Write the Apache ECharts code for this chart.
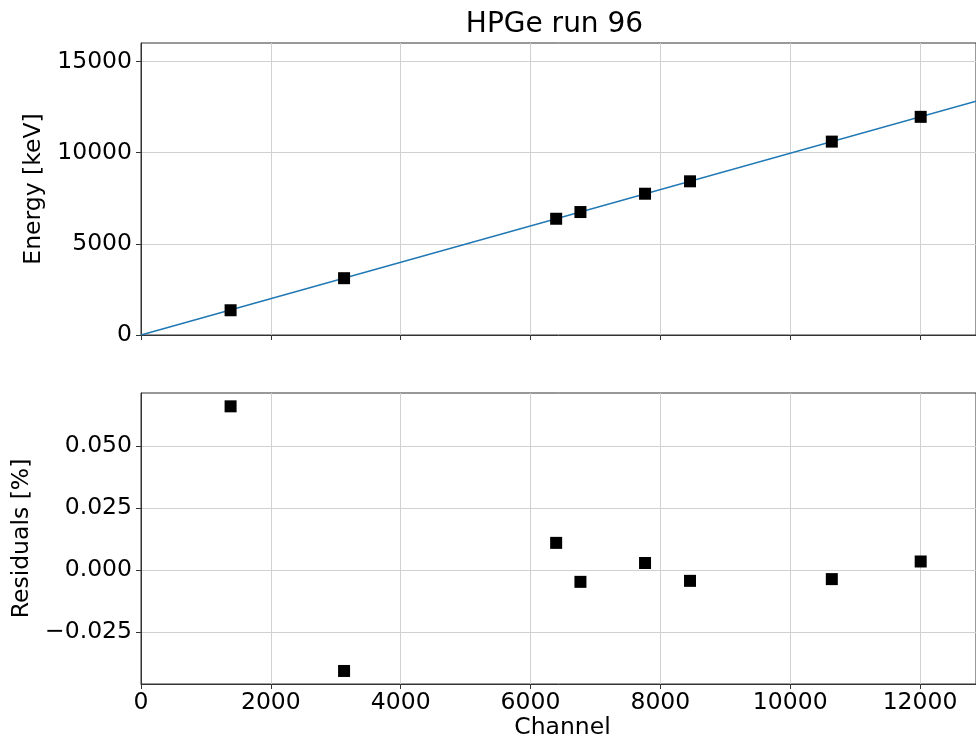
<!DOCTYPE html>
<html>
<head>
<meta charset="utf-8">
<script src="https://cdn.jsdelivr.net/npm/echarts@6/dist/echarts.min.js"></script>
<style>
html,body{margin:0;padding:0;background:#fff;}
#chart{width:976px;height:742px;}
</style>
</head>
<body>
<div id="chart"></div>
<script>
// ---- data ----
const channels  = [1380, 3128, 6395, 6769, 7764, 8457, 10641, 12010];
const energies  = [1357, 3115, 6374, 6742, 7747, 8427, 10604, 11962];
const residuals = [0.0660, -0.0406, 0.0110, -0.0047, 0.0029, -0.0043, -0.0036, 0.0035];
const fitX = [0, 12862];
const fitE = [0, 12818];
const xTicks = [0, 2000, 4000, 6000, 8000, 10000, 12000];
const energyTicks = [0, 5000, 10000, 15000];
const residualTicks = [-0.025, 0, 0.025, 0.05];
const titleText = 'HPGe run 96';

const FONT = 'DejaVu Sans';
const AXIS_COLOR = '#333';
const GRID_COLOR = '#d0d0d0';
const FS = 23.5;

const chart = echarts.init(document.getElementById('chart'), null, {renderer: 'canvas'});

function xAxisCfg(gridIndex, showLabels) {
  return {
    type: 'value', gridIndex, min: 0, max: 12862,
    axisLine: {show: true, onZero: false, lineStyle: {color: AXIS_COLOR, width: 1}},
    axisTick: {show: true, inside: false, length: 5, customValues: xTicks, lineStyle: {color: AXIS_COLOR}},
    axisLabel: {show: showLabels, customValues: xTicks, color: '#000', fontFamily: FONT, fontSize: FS, margin: 7,
      formatter: v => String(Math.round(v))},
    splitLine: {show: true, lineStyle: {color: GRID_COLOR, width: 1}},
    name: showLabels ? 'Channel' : '',
    nameLocation: 'middle', nameGap: 32,
    nameTextStyle: {color: '#000', fontFamily: FONT, fontSize: FS, padding: [0, 0, 0, 8]}
  };
}

const option = {
  backgroundColor: '#fff',
  animation: false,
  title: {
    text: titleText, left: 549.5, top: 6, textAlign: 'center',
    textStyle: {fontFamily: FONT, fontSize: 28, fontWeight: 'normal', color: '#000'}
  },
  grid: [
    {left: 141, right: -1, top: 43, height: 292, show: true, borderColor: AXIS_COLOR, borderWidth: 1, containLabel: false},
    {left: 141, right: -1, top: 393, height: 291, show: true, borderColor: AXIS_COLOR, borderWidth: 1, containLabel: false}
  ],
  xAxis: [xAxisCfg(0, false), xAxisCfg(1, true)],
  yAxis: [
    {
      type: 'value', gridIndex: 0, min: 0, max: 16011,
      axisLine: {show: true, lineStyle: {color: AXIS_COLOR}},
      axisTick: {show: true, length: 5, customValues: energyTicks, lineStyle: {color: AXIS_COLOR}},
      axisLabel: {customValues: energyTicks, color: '#000', fontFamily: FONT, fontSize: FS, margin: 9,
        formatter: v => String(Math.round(v))},
      splitLine: {show: true, lineStyle: {color: GRID_COLOR, width: 1}},
      name: 'Energy [keV]', nameLocation: 'middle', nameGap: 86,
      nameTextStyle: {color: '#000', fontFamily: FONT, fontSize: FS}
    },
    {
      type: 'value', gridIndex: 1, min: -0.04585, max: 0.07137,
      axisLine: {show: true, onZero: false, lineStyle: {color: AXIS_COLOR}},
      axisTick: {show: true, length: 5, customValues: residualTicks, lineStyle: {color: AXIS_COLOR}},
      axisLabel: {
        customValues: residualTicks, color: '#000', fontFamily: FONT, fontSize: FS, margin: 9,
        formatter: v => (v < -1e-9 ? '\u2212' : '') + Math.abs(v).toFixed(3)
      },
      splitLine: {show: true, lineStyle: {color: GRID_COLOR, width: 1}},
      name: 'Residuals [%]', nameLocation: 'middle', nameGap: 104,
      nameTextStyle: {color: '#000', fontFamily: FONT, fontSize: FS}
    }
  ],
  series: [
    {
      type: 'line', xAxisIndex: 0, yAxisIndex: 0,
      data: fitX.map((x, i) => [x, fitE[i]]),
      symbol: 'none', lineStyle: {color: '#1f77b4', width: 1.5}, z: 2, silent: true
    },
    {
      type: 'scatter', xAxisIndex: 0, yAxisIndex: 0,
      data: channels.map((x, i) => [x, energies[i]]),
      symbol: 'rect', symbolSize: 12, itemStyle: {color: '#000', opacity: 1}, z: 3
    },
    {
      type: 'scatter', xAxisIndex: 1, yAxisIndex: 1,
      data: channels.map((x, i) => [x, residuals[i]]),
      symbol: 'rect', symbolSize: 12, itemStyle: {color: '#000', opacity: 1}, z: 3
    }
  ]
};
chart.setOption(option);
</script>
</body>
</html>
